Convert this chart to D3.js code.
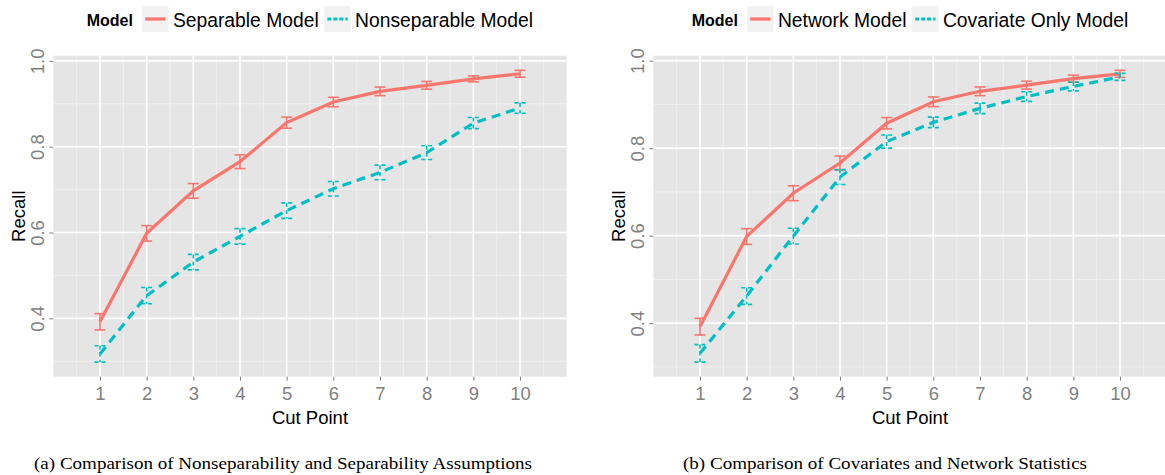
<!DOCTYPE html>
<html><head><meta charset="utf-8">
<script src="https://cdn.jsdelivr.net/npm/d3@7"></script>
<style>body{margin:0;background:#fff;} svg{display:block;}</style>
</head><body><svg id="c" width="1165" height="475"></svg>
<script>
// ---- data ----
const cutPoints = [1, 2, 3, 4, 5, 6, 7, 8, 9, 10];
const xTickLabels = ["1","2","3","4","5","6","7","8","9","10"];
const yTickValues = [0.4, 0.6, 0.8, 1.0];
const yMinorValues = [0.3, 0.5, 0.7, 0.9];
const xMinorValues = [0.5, 1.5, 2.5, 3.5, 4.5, 5.5, 6.5, 7.5, 8.5, 9.5, 10.5];

const separableMean = [0.392, 0.598, 0.697, 0.765, 0.856, 0.904, 0.929, 0.943, 0.958, 0.970];
const separableErr  = [0.019, 0.018, 0.017, 0.016, 0.013, 0.011, 0.010, 0.009, 0.007, 0.008];
const nonsepMean    = [0.317, 0.453, 0.531, 0.591, 0.651, 0.702, 0.740, 0.786, 0.855, 0.890];
const nonsepErr     = [0.019, 0.019, 0.018, 0.018, 0.018, 0.017, 0.017, 0.016, 0.013, 0.012];

const networkMean   = [0.392, 0.598, 0.697, 0.766, 0.857, 0.906, 0.930, 0.944, 0.959, 0.970];
const networkErr    = [0.019, 0.018, 0.017, 0.016, 0.013, 0.011, 0.010, 0.009, 0.008, 0.008];
const covariateMean = [0.331, 0.462, 0.599, 0.734, 0.815, 0.859, 0.891, 0.918, 0.941, 0.963];
const covariateErr  = [0.020, 0.019, 0.018, 0.017, 0.015, 0.012, 0.012, 0.011, 0.010, 0.008];

const legendTitle = "Model";
const panelA = {series: ["Separable Model", "Nonseparable Model"], means: [separableMean, nonsepMean], errs: [separableErr, nonsepErr],
  caption: "(a)  Comparison of Nonseparability and Separability Assumptions"};
const panelB = {series: ["Network Model", "Covariate Only Model"], means: [networkMean, covariateMean], errs: [networkErr, covariateErr],
  caption: "(b)  Comparison of Covariates and Network Statistics"};
const xTitle = "Cut Point", yTitle = "Recall";

// ---- styles ----
const colors = ["#F8766D", "#00BFC4"];
const dashes = [null, "9,6"];
const errDashes = [null, "4,3"];
const sans = "'Liberation Sans', Arial, Helvetica, sans-serif";
const serif = "'Liberation Serif', 'Times New Roman', serif";

const svg = d3.select("#c");

function drawPanel(p, ox, legendX, captionX, captionW) {
  const left = ox + 53.3, right = ox + 566.7, top = 55.7, bottom = 376.7;
  const g = svg.append("g");
  const x = d3.scaleLinear().domain([0, 11]).range([left, right]);
  let lo = Infinity, hi = -Infinity;
  p.means.forEach((m, s) => m.forEach((v, i) => { lo = Math.min(lo, v - p.errs[s][i]); hi = Math.max(hi, v + p.errs[s][i]); }));
  const pad = (hi - lo) * 0.05;
  const y = d3.scaleLinear().domain([lo - pad, hi + pad]).range([bottom, top]);

  // panel background
  g.append("rect").attr("x", left).attr("y", top).attr("width", right - left).attr("height", bottom - top).attr("fill", "#e5e5e5");
  // minor grid
  g.selectAll(".ym").data(yMinorValues.filter(v => y(v) >= top && y(v) <= bottom)).enter().append("line")
    .attr("x1", left).attr("x2", right).attr("y1", d => y(d)).attr("y2", d => y(d))
    .attr("stroke", "#f2f2f2").attr("stroke-width", 0.8);
  g.selectAll(".xm").data(xMinorValues).enter().append("line")
    .attr("y1", top).attr("y2", bottom).attr("x1", d => x(d)).attr("x2", d => x(d))
    .attr("stroke", "#f2f2f2").attr("stroke-width", 0.8);
  // major grid
  g.selectAll(".yM").data(yTickValues).enter().append("line")
    .attr("x1", left).attr("x2", right).attr("y1", d => y(d)).attr("y2", d => y(d))
    .attr("stroke", "#ffffff").attr("stroke-width", 1.6);
  g.selectAll(".xM").data(cutPoints).enter().append("line")
    .attr("y1", top).attr("y2", bottom).attr("x1", d => x(d)).attr("x2", d => x(d))
    .attr("stroke", "#ffffff").attr("stroke-width", 1.6);

  // axes
  const xa = g.append("g").attr("transform", `translate(0,${bottom})`)
    .call(d3.axisBottom(x).tickValues(cutPoints).tickFormat((d, i) => xTickLabels[i]).tickSize(4).tickPadding(4));
  xa.select(".domain").remove();
  xa.selectAll("line").attr("stroke", "#7f7f7f").attr("stroke-width", 1);
  xa.selectAll("text").attr("fill", "#7f7f7f").attr("font-family", sans).attr("font-size", 18.5).attr("dy", "0.85em");

  const ya = g.append("g").attr("transform", `translate(${left},0)`)
    .call(d3.axisLeft(y).tickValues(yTickValues).tickFormat(d3.format(".1f")).tickSize(4));
  ya.select(".domain").remove();
  ya.selectAll("line").attr("stroke", "#7f7f7f").attr("stroke-width", 1);
  ya.selectAll("text").attr("fill", "#7f7f7f").attr("font-family", sans).attr("font-size", 18.5)
    .attr("x", null).attr("dy", null).attr("text-anchor", "middle")
    .attr("transform", "translate(-9.5,0) rotate(-90)");

  // axis titles
  g.append("text").attr("x", (left + right) / 2).attr("y", 424).attr("text-anchor", "middle")
    .attr("font-family", sans).attr("font-size", 18.5).attr("fill", "#000").text(xTitle);
  g.append("text").attr("transform", `translate(${ox + 25},${(top + bottom) / 2}) rotate(-90)`).attr("text-anchor", "middle")
    .attr("font-family", sans).attr("font-size", 18.5).attr("fill", "#000").text(yTitle);

  // series
  const line = d3.line().x((d, i) => x(cutPoints[i])).y(d => y(d));
  const capW = 5.5;
  p.means.forEach((m, s) => {
    const sg = g.append("g");
    m.forEach((v, i) => {
      const cx = x(cutPoints[i]), yt = y(v + p.errs[s][i]), yb = y(v - p.errs[s][i]);
      [[cx - capW, yt, cx + capW, yt], [cx, yt, cx, yb], [cx - capW, yb, cx + capW, yb]].forEach(seg => {
        sg.append("line").attr("x1", seg[0]).attr("y1", seg[1]).attr("x2", seg[2]).attr("y2", seg[3])
          .attr("stroke", colors[s]).attr("stroke-width", 1.6)
          .attr("stroke-dasharray", errDashes[s]);
      });
    });
    sg.append("path").attr("d", line(m)).attr("fill", "none").attr("stroke", colors[s])
      .attr("stroke-width", 3.2).attr("stroke-dasharray", dashes[s]);
  });

  // legend
  const lg = svg.append("g");
  const t = lg.append("text").attr("x", legendX).attr("y", 25.7).attr("font-family", sans).attr("font-weight", "bold")
    .attr("font-size", 16).attr("fill", "#000").text(legendTitle);
  let cx = legendX + t.node().getComputedTextLength() + 9.3;
  p.series.forEach((name, s) => {
    lg.append("rect").attr("x", cx).attr("y", 6).attr("width", 26.3).attr("height", 26).attr("fill", "#f2f2f2");
    lg.append("line").attr("x1", cx + 3).attr("x2", cx + 23.3).attr("y1", 19).attr("y2", 19)
      .attr("stroke", colors[s]).attr("stroke-width", 3.2).attr("stroke-dasharray", s ? "4,2" : null);
    const lt = lg.append("text").attr("x", cx + 30.7).attr("y", 26.7).attr("font-family", sans).attr("font-size", 19.3)
      .attr("fill", "#000").text(name);
    cx = cx + 30.7 + lt.node().getComputedTextLength() + 5.7;
  });

  // caption
  svg.append("text").attr("x", captionX).attr("y", 469).attr("font-family", serif).attr("font-size", 17)
    .attr("fill", "#000").attr("textLength", captionW).attr("lengthAdjust", "spacingAndGlyphs").text(p.caption);
}

drawPanel(panelA, 0, 86.7, 34, 498);
drawPanel(panelB, 600, 691.7, 683, 404);
</script></body></html>
